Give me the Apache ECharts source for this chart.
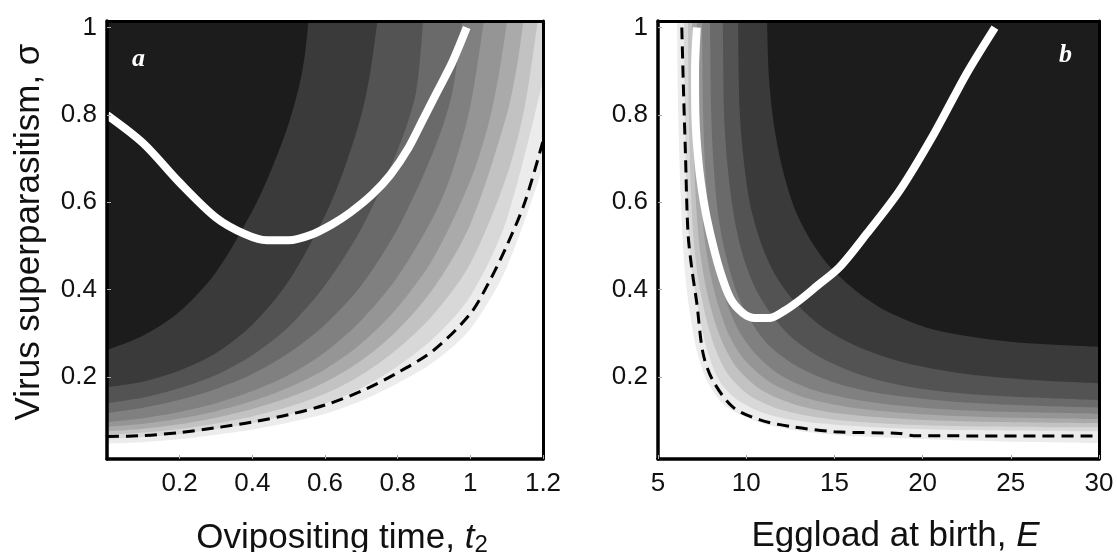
<!DOCTYPE html>
<html><head><meta charset="utf-8">
<script src="https://cdn.jsdelivr.net/npm/echarts@6/dist/echarts.min.js"></script>
<style>html,body{margin:0;padding:0;background:#fff}#c{width:1117px;height:552px}</style>
</head><body><div id="c"></div>
<script>
// ---- tick labels ----
const tickA_x = [0.2, 0.4, 0.6, 0.8, 1, 1.2];
const tickB_x = [5, 10, 15, 20, 25, 30];
const tick_y = [0.2, 0.4, 0.6, 0.8, 1];

// ---- panel a: contour boundaries [t2, sigma], darkest level first ----
const a_c1 = [[0,0.262],[0.1,0.295],[0.2,0.35],[0.3,0.44],[0.4,0.58],[0.45,0.67],[0.5,0.78],[0.53,0.87],[0.545,0.94],[0.555,1.02]];
const a_c2 = [[0,0.177],[0.1,0.19],[0.2,0.215],[0.3,0.255],[0.4,0.32],[0.5,0.42],[0.6,0.57],[0.65,0.67],[0.7,0.8],[0.725,0.9],[0.745,1.02]];
const a_c3 = [[0,0.14],[0.1,0.153],[0.2,0.175],[0.3,0.205],[0.4,0.25],[0.5,0.315],[0.6,0.41],[0.7,0.54],[0.8,0.72],[0.85,0.85],[0.87,1.02]];
const a_c4 = [[0,0.118],[0.1,0.13],[0.2,0.148],[0.3,0.173],[0.4,0.207],[0.5,0.255],[0.6,0.32],[0.7,0.41],[0.8,0.54],[0.9,0.72],[0.95,0.85],[0.978,1.02]];
const a_c5 = [[0,0.097],[0.1,0.106],[0.2,0.12],[0.3,0.14],[0.4,0.168],[0.5,0.205],[0.6,0.257],[0.7,0.33],[0.8,0.43],[0.9,0.57],[0.95,0.67],[1.0,0.82],[1.038,1.02]];
const a_c6 = [[0,0.086],[0.1,0.093],[0.2,0.105],[0.3,0.122],[0.4,0.145],[0.5,0.176],[0.6,0.218],[0.7,0.277],[0.8,0.36],[0.9,0.475],[1.0,0.65],[1.05,0.78],[1.08,0.9],[1.102,1.02]];
const a_c7 = [[0,0.076],[0.1,0.082],[0.2,0.092],[0.3,0.107],[0.4,0.127],[0.5,0.153],[0.6,0.188],[0.7,0.238],[0.8,0.308],[0.9,0.405],[1.0,0.55],[1.1,0.8],[1.13,0.92],[1.147,1.02]];
const a_c8 = [[0,0.068],[0.1,0.073],[0.2,0.081],[0.3,0.094],[0.4,0.11],[0.5,0.132],[0.6,0.162],[0.7,0.205],[0.8,0.265],[0.9,0.345],[1.0,0.46],[1.1,0.66],[1.15,0.82],[1.186,1.02]];
const a_c9 = [[0,0.059],[0.1,0.063],[0.2,0.07],[0.3,0.081],[0.4,0.095],[0.5,0.114],[0.6,0.139],[0.7,0.175],[0.8,0.225],[0.9,0.29],[1.0,0.385],[1.1,0.56],[1.2,0.88]];
const a_c10 = [[0,0.048],[0.1,0.051],[0.2,0.058],[0.3,0.068],[0.4,0.08],[0.5,0.096],[0.6,0.116],[0.7,0.146],[0.8,0.186],[0.9,0.235],[1.0,0.31],[1.1,0.45],[1.2,0.68]];
const a_white = [[0,0.80],[0.1,0.735],[0.2,0.645],[0.3,0.565],[0.38,0.527],[0.44,0.513],[0.5,0.513],[0.56,0.525],[0.62,0.55],[0.67,0.577],[0.73,0.618],[0.78,0.663],[0.83,0.725],[0.87,0.79],[0.91,0.855],[0.95,0.92],[0.99,1.0]];
const a_dashed = [[0,0.064],[0.1,0.066],[0.2,0.073],[0.3,0.084],[0.4,0.097],[0.5,0.114],[0.6,0.136],[0.7,0.168],[0.8,0.21],[0.9,0.262],[1.0,0.345],[1.05,0.415],[1.1,0.5],[1.15,0.6],[1.2,0.74]];

// ---- panel b: contour boundaries [E, sigma], darkest level first ----
const b_c1 = [[11.18,1.02],[11.3,0.88],[11.6,0.77],[12.1,0.67],[12.8,0.58],[13.7,0.51],[14.8,0.45],[16.3,0.395],[18,0.35],[20.5,0.31],[23.5,0.288],[26.5,0.276],[30,0.269]];
const b_c2 = [[9.54,1.02],[9.62,0.82],[9.85,0.7],[10.25,0.59],[10.9,0.5],[11.7,0.43],[12.8,0.37],[14.3,0.315],[16.3,0.27],[19,0.233],[22.5,0.207],[26,0.194],[30,0.186]];
const b_c3 = [[8.68,1.02],[8.75,0.8],[8.95,0.68],[9.3,0.57],[9.8,0.48],[10.5,0.405],[11.4,0.345],[12.6,0.29],[14.3,0.243],[16.5,0.205],[19.5,0.176],[23,0.16],[30,0.147]];
const b_c4 = [[7.95,1.02],[8.02,0.8],[8.18,0.67],[8.45,0.56],[8.9,0.47],[9.5,0.39],[10.3,0.325],[11.4,0.268],[13,0.222],[15.2,0.185],[18,0.16],[22,0.143],[26,0.135],[30,0.13]];
const b_c5 = [[7.5,1.02],[7.56,0.8],[7.7,0.66],[7.95,0.54],[8.35,0.45],[8.9,0.37],[9.6,0.305],[10.6,0.25],[12,0.203],[14,0.168],[17,0.143],[21,0.127],[25,0.12],[30,0.116]];
const b_c6 = [[7.2,1.02],[7.25,0.8],[7.38,0.65],[7.6,0.53],[7.95,0.44],[8.45,0.36],[9.1,0.29],[10,0.235],[11.4,0.187],[13.4,0.152],[16,0.13],[20,0.115],[25,0.107],[30,0.104]];
const b_c7 = [[6.93,1.02],[6.98,0.8],[7.1,0.64],[7.3,0.52],[7.6,0.43],[8.05,0.35],[8.65,0.28],[9.5,0.22],[10.8,0.172],[12.7,0.138],[15.2,0.117],[19,0.104],[24,0.097],[30,0.094]];
const b_c8 = [[6.7,1.02],[6.75,0.8],[6.86,0.63],[7.03,0.51],[7.3,0.42],[7.7,0.34],[8.25,0.265],[9,0.205],[10.2,0.158],[12,0.125],[14.5,0.105],[18,0.093],[23,0.087],[30,0.085]];
const b_c9 = [[6.47,1.02],[6.52,0.8],[6.62,0.62],[6.78,0.5],[7.0,0.42],[7.35,0.34],[7.8,0.26],[8.5,0.19],[9.6,0.145],[11.2,0.115],[13.5,0.097],[17,0.086],[22,0.079],[30,0.076]];
const b_c10 = [[6.08,1.02],[6.15,0.8],[6.3,0.6],[6.5,0.45],[6.8,0.35],[7.2,0.26],[7.8,0.19],[8.8,0.135],[10.5,0.1],[12.5,0.08],[15,0.068],[20,0.058],[25,0.052],[30,0.049]];
const b_white = [[7.2,1.0],[7.1,0.9],[7.12,0.8],[7.3,0.69],[7.6,0.6],[7.95,0.53],[8.5,0.445],[9.1,0.38],[9.8,0.347],[10.5,0.335],[11.3,0.335],[12.1,0.35],[13,0.375],[14,0.408],[15.3,0.452],[16.85,0.529],[18.7,0.627],[20.65,0.757],[22.5,0.895],[24.1,1.0]];
const b_dashed = [[6.35,1.0],[6.45,0.85],[6.55,0.72],[6.7,0.53],[6.93,0.444],[7.2,0.369],[7.55,0.255],[8.1,0.193],[9.25,0.131],[10.78,0.102],[12.65,0.086],[15,0.075],[18.7,0.071],[19.5,0.066],[30,0.065]];

// ---- styling ----
const shades = ['#1c1c1c','#3a3a3a','#535353','#6a6a6a','#808080','#959595','#aaaaaa','#c2c2c2','#d8d8d8','#ececec'];
const FONT = '"Liberation Sans", Arial, sans-serif';

const aLevels = [a_c1,a_c2,a_c3,a_c4,a_c5,a_c6,a_c7,a_c8,a_c9,a_c10];
const bLevels = [b_c1,b_c2,b_c3,b_c4,b_c5,b_c6,b_c7,b_c8,b_c9,b_c10];

function band(data, color, xi, yi) {
  return { type:'line', xAxisIndex:xi, yAxisIndex:yi, data:data, showSymbol:false, symbol:'none',
    smooth:0.3, lineStyle:{width:0}, areaStyle:{color:color, opacity:1, origin:'end'},
    silent:true, z:2, clip:true };
}
const series = [];
for (let i = aLevels.length - 1; i >= 0; i--) series.push(band(aLevels[i], shades[i], 0, 0));
for (let i = bLevels.length - 1; i >= 0; i--) series.push(band(bLevels[i], shades[i], 2, 2));
series.push({ type:'line', xAxisIndex:0, yAxisIndex:0, data:a_dashed, showSymbol:false, symbol:'none', smooth:0.3,
  lineStyle:{color:'#000', width:3, type:[12,7]}, z:4, silent:true });
series.push({ type:'line', xAxisIndex:0, yAxisIndex:0, data:a_white, showSymbol:false, symbol:'none', smooth:0.3,
  lineStyle:{color:'#fff', width:8}, z:5, silent:true });
series.push({ type:'line', xAxisIndex:2, yAxisIndex:2, data:b_dashed, showSymbol:false, symbol:'none', smooth:0.3,
  lineStyle:{color:'#000', width:3, type:[12,7]}, z:4, silent:true });
series.push({ type:'line', xAxisIndex:2, yAxisIndex:2, data:b_white, showSymbol:false, symbol:'none', smooth:0.3,
  lineStyle:{color:'#fff', width:8}, z:5, silent:true });

const YMIN = 0.0125, YMAX = 1.015;
function mainX(grid, min, max, ticks, name, rich) {
  return { type:'value', gridIndex:grid, min:min, max:max, position:'bottom', z:10,
    axisLine:{show:true, onZero:false, lineStyle:{color:'#000', width:3.5}},
    axisTick:{show:true, inside:true, length:4, customValues:ticks, lineStyle:{color:'#aaa', width:1}},
    axisLabel:{show:true, customValues:ticks, fontSize:26, margin:12, color:'#111', fontFamily:FONT},
    splitLine:{show:false},
    name:name, nameLocation:'middle', nameGap:60,
    nameTextStyle:{fontSize:35, color:'#111', fontFamily:FONT, padding:[0,0,0,34], rich:rich} };
}
function frameX(grid, min, max) {
  return { type:'value', gridIndex:grid, min:min, max:max, position:'top', z:10,
    axisLine:{show:true, onZero:false, lineStyle:{color:'#000', width:3}},
    axisTick:{show:false}, axisLabel:{show:false}, splitLine:{show:false} };
}
function mainY(grid, name) {
  return { type:'value', gridIndex:grid, min:YMIN, max:YMAX, position:'left', z:10,
    axisLine:{show:true, onZero:false, lineStyle:{color:'#000', width:3.5}},
    axisTick:{show:true, inside:true, length:4, customValues:tick_y, lineStyle:{color:'#aaa', width:1}},
    axisLabel:{show:true, customValues:tick_y, fontSize:26, margin:10, color:'#111', fontFamily:FONT},
    splitLine:{show:false},
    name:name, nameLocation:'middle', nameGap:60, nameRotate:90,
    nameTextStyle:{fontSize:35, color:'#111', fontFamily:FONT, padding:[0,0,0,16]} };
}
function frameY(grid) {
  return { type:'value', gridIndex:grid, min:YMIN, max:YMAX, position:'right', z:10,
    axisLine:{show:true, onZero:false, lineStyle:{color:'#000', width:3}},
    axisTick:{show:false}, axisLabel:{show:false}, splitLine:{show:false} };
}
const richA = { n:{fontSize:35, fontFamily:FONT, color:'#111'}, i:{fontSize:35, fontStyle:'italic', fontFamily:FONT, color:'#111'},
  s:{fontSize:24, fontFamily:FONT, color:'#111', padding:[14,0,0,0]} };

const option = {
  animation:false,
  backgroundColor:'#fff',
  grid:[
    {left:107, right:574, top:21, bottom:93, containLabel:false, outerBoundsMode:'none'},
    {left:658, right:18, top:21, bottom:93, containLabel:false, outerBoundsMode:'none'}
  ],
  xAxis:[
    mainX(0, 0, 1.2, tickA_x, '{n|Ovipositing time, }{i|t}{s|2}', richA),
    frameX(0, 0, 1.2),
    mainX(1, 5, 30, tickB_x, '{n|Eggload at birth, }{i|E}', richA),
    frameX(1, 5, 30)
  ],
  yAxis:[
    mainY(0, 'Virus superparasitism, σ'),
    frameY(0),
    mainY(1, ''),
    frameY(1)
  ],
  graphic:[
    {type:'text', left:132, top:46, z:100, style:{text:'a', font:'italic bold 26px "Liberation Serif", serif', fill:'#fff'}},
    {type:'text', left:1059, top:42, z:100, style:{text:'b', font:'italic bold 26px "Liberation Serif", serif', fill:'#fff'}}
  ],
  series:series
};
const chart = echarts.init(document.getElementById('c'), null, {renderer:'canvas'});
chart.setOption(option);
</script></body></html>
